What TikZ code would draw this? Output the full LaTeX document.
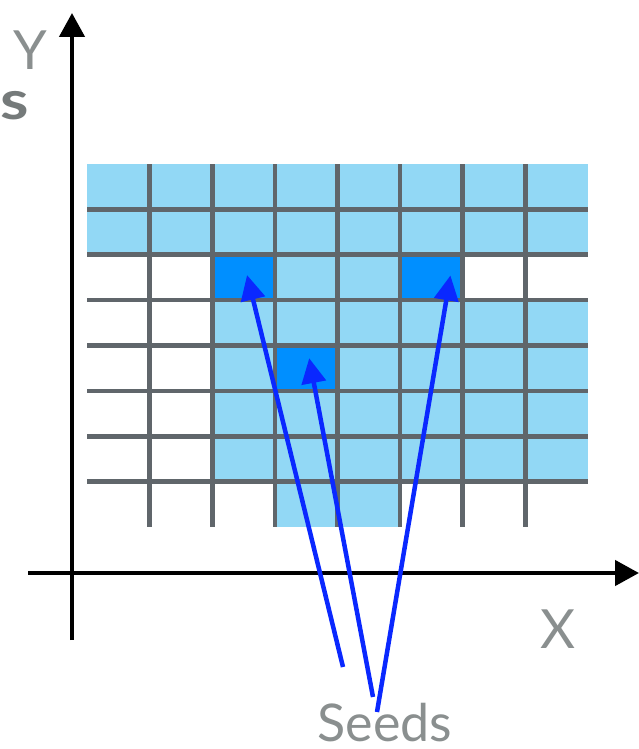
\documentclass[tikz,border=0pt]{standalone}
\usepackage{fontspec}
\setmainfont{Lato}
\usepackage{xcolor}
\usepackage{tikz}
\usetikzlibrary{arrows.meta, positioning}

\definecolor{corCelula}{HTML}{92D8F5}
\definecolor{corSemente}{HTML}{008FFF}
\definecolor{corGrade}{HTML}{60666B}
\definecolor{corSeta}{HTML}{0A28FF}
\definecolor{corRotulo}{HTML}{8A8F8F}

\begin{document}
\begin{tikzpicture}[
        x=1pt, y=-1pt,
        eixo/.style={line width=4.5pt, -{Triangle[length=24pt, width=25pt]}},
        grade/.style={draw=corGrade, line width=4.6pt},
        semente/.style={rectangle, fill=corSemente, minimum width=62.6pt, minimum height=45.4pt, inner sep=0pt},
        seta/.style={draw=corSeta, line width=4.5pt, -{Triangle[length=25pt, width=24pt]}},
        rotulo/.style={text=corRotulo, font=\fontsize{54}{60}\selectfont, inner sep=0pt, anchor=base}
    ]
        \useasboundingbox (0,0) rectangle (639,749);

        % Eixos
        \coordinate (baseY) at (72,640);
        \coordinate (topoY) at (72,13);
        \coordinate (baseX) at (28,573);
        \coordinate (fimX) at (639,573);
        \draw[eixo] (baseY) -- (topoY);
        \draw[eixo] (baseX) -- (fimX);

        % Células e sementes
        \begin{scope}[shift={(87,164)}, x=62.625pt, y=-45.375pt]
            \fill[corCelula] (0,0) rectangle (8,2);
            \fill[corCelula] (2,2) rectangle (6,3);
            \fill[corCelula] (2,3) rectangle (8,7);
            \fill[corCelula] (3,7) rectangle (5,8);
            \node[semente] (sementeA) at (2.5,2.5) {};
            \node[semente] (sementeB) at (3.5,4.5) {};
            \node[semente] (sementeC) at (5.5,2.5) {};
            \foreach \i in {1,...,7} {
                \draw[grade] (\i,0) -- (\i,8);
                \draw[grade] (0,\i) -- (8,\i);
            }
        \end{scope}

        % Rótulos
        \node[rotulo] (rotY) at (30,70) {Y};
        \node[rotulo, text=corRotulo!85!black, font=\fontsize{54}{60}\selectfont\bfseries, xscale=1.2] (rotS) at (15,120) {s};
        \node[rotulo] (rotX) at (558,648) {X};
        \node[rotulo, font=\fontsize{52}{58}\selectfont] (sementes) at (385,741) {Seeds};

        % Conexões
        \coordinate (pontaA) at (343,667);
        \coordinate (pontaB) at (373,697);
        \coordinate (pontaC) at (377,712);
        \draw[seta] (pontaA) -- ([xshift=3.5pt, yshift=2.4pt]sementeA.center);
        \draw[seta] (pontaB) -- ([xshift=3pt, yshift=10pt]sementeB.center);
        \draw[seta] (pontaC) -- ([xshift=19pt, yshift=2pt]sementeC.center);
    \end{tikzpicture}
\end{document}
